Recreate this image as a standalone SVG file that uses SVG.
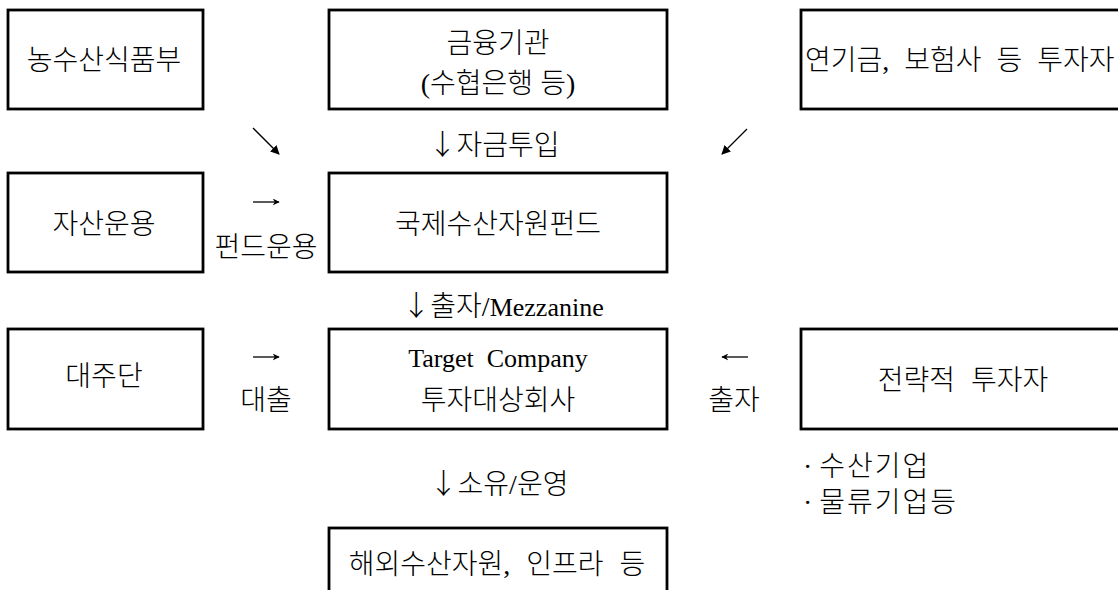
<svg xmlns="http://www.w3.org/2000/svg" width="1118" height="590" viewBox="0 0 1118 590">
  <style>
    .box { fill: #ffffff; stroke: #000000; stroke-width: 2.8; }
    .t { font-family: 'Liberation Serif', 'Noto Sans CJK KR', serif; font-size: 28px; font-weight: 300; fill: #000000; }
    .c { text-anchor: middle; }
    .lat { font-size: 26px; font-weight: 400; }
    .arr { font-family: 'Noto Sans CJK KR', sans-serif; font-weight: 300; }
    .wide { letter-spacing: 2px; }
    .edge { stroke: #000000; stroke-width: 1.3; fill: none; }
  </style>
  <defs>
    <marker id="head" viewBox="0 0 10 10" refX="9" refY="5" markerWidth="9" markerHeight="9" markerUnits="userSpaceOnUse" orient="auto">
      <path d="M0,0 L10,5 L0,10 Z" fill="#000000"/>
    </marker>
    <marker id="headSmall" viewBox="0 0 10 10" refX="9" refY="5" markerWidth="7" markerHeight="7" markerUnits="userSpaceOnUse" orient="auto">
      <path d="M0,0 L10,5 L0,10 L3,5 Z" fill="#000000"/>
    </marker>
  </defs>

  <rect width="1118" height="590" fill="#ffffff"/>

  <!-- top row -->
  <g id="ministry">
    <rect class="box" x="8" y="10" width="195" height="99"/>
    <text class="t c" x="104" y="70">농수산식품부</text>
  </g>
  <g id="financial-institutions">
    <rect class="box" x="329" y="10" width="338" height="99"/>
    <text class="t c" x="498" y="53">금융기관</text>
    <text class="t c" x="498" y="93">(수협은행 등)</text>
  </g>
  <g id="institutional-investors">
    <rect class="box" x="801" y="10" width="330" height="99"/>
    <text class="t" x="805" y="70" word-spacing="8">연기금, 보험사 등 투자자</text>
  </g>

  <!-- middle row -->
  <g id="asset-management">
    <rect class="box" x="8" y="173" width="195" height="99"/>
    <text class="t c" x="104" y="234">자산운용</text>
  </g>
  <g id="fund">
    <rect class="box" x="329" y="173" width="338" height="99"/>
    <text class="t c" x="498" y="234">국제수산자원펀드</text>
  </g>

  <!-- lower row -->
  <g id="lenders">
    <rect class="box" x="8" y="329" width="195" height="100"/>
    <text class="t c" x="104" y="386">대주단</text>
  </g>
  <g id="target-company">
    <rect class="box" x="329" y="329" width="338" height="100"/>
    <text class="t c lat" x="498" y="367" xml:space="preserve" style="white-space:pre">Target  Company</text>
    <text class="t c" x="498" y="410">투자대상회사</text>
  </g>
  <g id="strategic-investors">
    <rect class="box" x="801" y="329" width="330" height="100"/>
    <text class="t c" x="963" y="390" word-spacing="9">전략적 투자자</text>
    <text class="t" x="803" y="476">· <tspan class="wide">수산기업</tspan></text>
    <text class="t" x="803" y="512">· <tspan class="wide">물류기업등</tspan></text>
  </g>

  <!-- bottom -->
  <g id="overseas-resources">
    <rect class="box" x="329" y="528" width="338" height="80"/>
    <text class="t c" x="497" y="574" word-spacing="9">해외수산자원, 인프라 등</text>
  </g>

  <!-- flows between boxes -->
  <g id="connectors">
    <line class="edge" x1="253" y1="128" x2="279" y2="154" marker-end="url(#head)"/>
    <line class="edge" x1="747" y1="129" x2="722" y2="154" marker-end="url(#head)"/>
    <line class="edge" x1="253" y1="202" x2="279" y2="202" marker-end="url(#headSmall)"/>
    <line class="edge" x1="253" y1="357" x2="279" y2="357" marker-end="url(#headSmall)"/>
    <line class="edge" x1="748" y1="357" x2="722" y2="357" marker-end="url(#headSmall)"/>
  </g>

  <!-- flow labels -->
  <g id="labels">
    <text class="t c" x="494" y="155"><tspan class="arr">↓</tspan>자금투입</text>
    <text class="t c" x="266" y="257">펀드운용</text>
    <text class="t c" x="503" y="316"><tspan class="arr">↓</tspan>출자/<tspan class="lat">Mezzanine</tspan></text>
    <text class="t c" x="266" y="410">대출</text>
    <text class="t c" x="734" y="410">출자</text>
    <text class="t c" x="499" y="494"><tspan class="arr">↓</tspan>소유/운영</text>
  </g>
</svg>
